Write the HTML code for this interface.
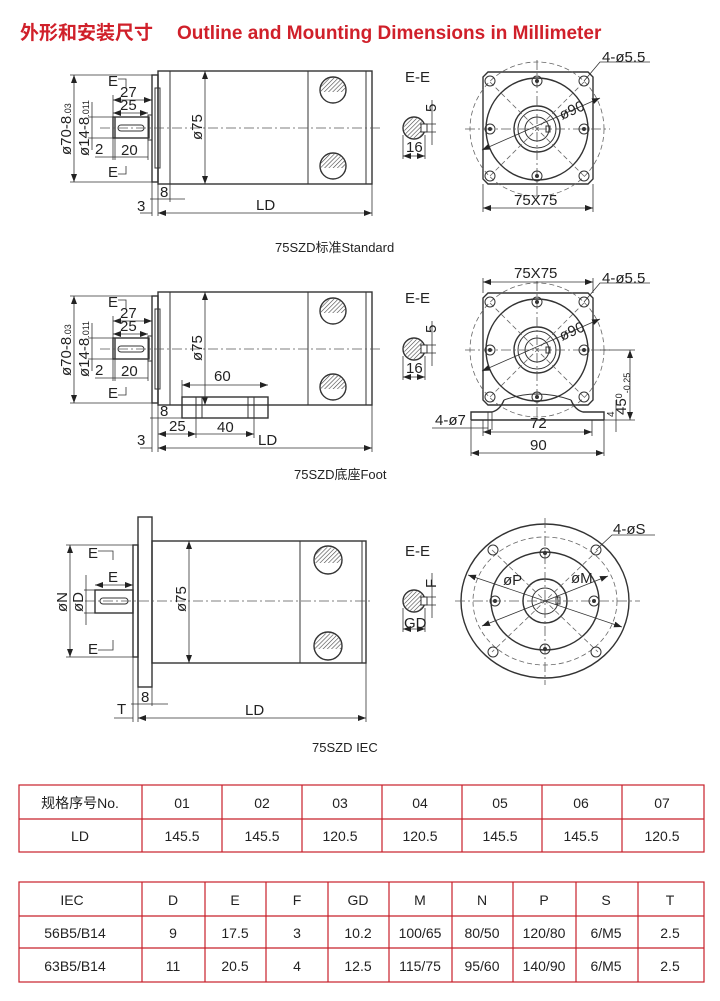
<!DOCTYPE html>
<html><head><meta charset="utf-8"><style>
html,body{margin:0;padding:0;background:#fff;}
svg{display:block;}
.l{stroke:#333;stroke-width:1;fill:none;}
.t{stroke:#333;stroke-width:1.4;fill:none;}
.c{stroke:#555;stroke-width:0.8;fill:none;stroke-dasharray:10 3 2 3;}
.d{stroke:#666;stroke-width:0.8;fill:none;stroke-dasharray:5 3;}
.dm{stroke:#333;stroke-width:0.8;fill:none;}
text{font-family:"Liberation Sans","Noto Sans CJK SC",sans-serif;fill:#222;}
.lb{font-size:15px;}
.cap{font-size:13px;}
.tb{font-size:14px;}
.rd{stroke:#c8202a;stroke-width:1.2;fill:none;}
</style></head><body>
<svg width="720" height="1001" viewBox="0 0 720 1001" xmlns="http://www.w3.org/2000/svg">
<defs>
<pattern id="h" width="3" height="3" patternUnits="userSpaceOnUse" patternTransform="rotate(45)"><line x1="0" y1="0" x2="0" y2="3" stroke="#444" stroke-width="1.2"/></pattern>
<marker id="a" markerWidth="8" markerHeight="6" refX="8" refY="3" orient="auto-start-reverse" markerUnits="userSpaceOnUse"><path d="M0,0 L8,3 L0,6z" fill="#222"/></marker>
<g id="side">
 <rect class="t" x="152" y="75" width="6" height="107"/>
 <rect class="l" x="155" y="88" width="5" height="80"/>
 <rect class="t" x="158" y="71" width="214" height="113"/>
 <line class="l" x1="170" y1="71" x2="170" y2="184"/>
 <line class="l" x1="308" y1="71" x2="308" y2="184"/>
 <line class="l" x1="366" y1="71" x2="366" y2="184"/>
 <circle class="t" cx="333" cy="90" r="13"/><path d="M321,86 A13,13 0 0 1 345,86 L345,92 L321,92z" fill="url(#h)"/>
 <circle class="t" cx="333" cy="166" r="13"/><path d="M321,162 A13,13 0 0 1 345,162 L345,168 L321,168z" fill="url(#h)"/>
 <rect class="t" x="113" y="117" width="36" height="21"/>
 <rect class="l" x="148" y="115" width="4" height="25"/>
 <rect class="l" x="118" y="125" width="26" height="6" rx="3"/>
 <line class="t" x1="115" y1="117" x2="115" y2="138"/>
 <line class="c" x1="100" y1="128" x2="380" y2="128"/>
 <!-- dims -->
 <line class="dm" x1="70" y1="75" x2="152" y2="75"/><line class="dm" x1="70" y1="182" x2="152" y2="182"/>
 <line class="dm" x1="74" y1="75" x2="74" y2="182" marker-start="url(#a)" marker-end="url(#a)"/>
 <text class="lb" transform="translate(71,155) rotate(-90)">ø70-8<tspan font-size="9">.03</tspan></text>
 <line class="dm" x1="88" y1="117" x2="113" y2="117"/><line class="dm" x1="88" y1="138" x2="113" y2="138"/>
 <line class="dm" x1="92" y1="102" x2="92" y2="150"/>
 <text class="lb" transform="translate(89,156) rotate(-90)">ø14-8<tspan font-size="9">.011</tspan></text>
 <line class="dm" x1="113" y1="95" x2="113" y2="117"/>
 <line class="dm" x1="113" y1="100" x2="152" y2="100" marker-start="url(#a)" marker-end="url(#a)"/>
 <text class="lb" x="120" y="97">27</text>
 <line class="dm" x1="113" y1="113" x2="148" y2="113" marker-start="url(#a)" marker-end="url(#a)"/>
 <text class="lb" x="120" y="110">25</text>
 <line class="dm" x1="113" y1="138" x2="113" y2="160"/><line class="dm" x1="115" y1="138" x2="115" y2="160"/><line class="dm" x1="148" y1="140" x2="148" y2="160"/>
 <line class="dm" x1="95" y1="157" x2="148" y2="157"/>
 <text class="lb" x="95" y="154">2</text><text class="lb" x="121" y="155">20</text>
 <text class="lb" x="108" y="86">E</text><path class="dm" d="M118,79 H126 V88"/>
 <text class="lb" x="108" y="177">E</text><path class="dm" d="M118,174 H126 V166"/>
 <line class="dm" x1="205" y1="71" x2="205" y2="184" marker-start="url(#a)" marker-end="url(#a)"/>
 <text class="lb" transform="translate(202,140) rotate(-90)">ø75</text>
</g>
<g id="sect">
 <circle class="t" cx="414" cy="128" r="11"/>
 <circle cx="414" cy="128" r="10" fill="url(#h)"/>
 <rect x="421" y="124" width="6" height="8" fill="#fff" stroke="#333"/>
 <line class="dm" x1="420" y1="124" x2="436" y2="124"/><line class="dm" x1="420" y1="132" x2="436" y2="132"/>
 <line class="dm" x1="432" y1="100" x2="432" y2="145"/>
 <line class="dm" x1="403" y1="135" x2="403" y2="159"/><line class="dm" x1="425" y1="135" x2="425" y2="159"/>
 <line class="dm" x1="403" y1="156" x2="425" y2="156" marker-start="url(#a)" marker-end="url(#a)"/>
</g>
<g id="front">
 <path class="t" d="M488,72 H588 L593,77 V179 L588,184 H488 L483,179 V77z"/>
 <circle class="d" cx="537" cy="129" r="67"/>
 <circle class="t" cx="537" cy="129" r="51"/>
 <circle class="t" cx="537" cy="129" r="23"/>
 <circle class="l" cx="537" cy="129" r="19"/>
 <circle class="l" cx="537" cy="129" r="12"/>
 <rect class="l" x="546" y="126" width="4" height="6"/>
 <line class="c" x1="465" y1="129" x2="610" y2="129"/>
 <line class="c" x1="537" y1="60" x2="537" y2="198"/>
 <line class="d" x1="490" y1="82" x2="584" y2="176"/><line class="d" x1="584" y1="82" x2="490" y2="176"/>
 <g class="l">
 <circle cx="490" cy="81" r="5"/><circle cx="584" cy="81" r="5"/><circle cx="490" cy="176" r="5"/><circle cx="584" cy="176" r="5"/>
 <circle cx="537" cy="81" r="5"/><circle cx="490" cy="129" r="5"/><circle cx="584" cy="129" r="5"/><circle cx="537" cy="176" r="5"/>
 </g>
 <g fill="#333"><circle cx="537" cy="81" r="2"/><circle cx="490" cy="129" r="2"/><circle cx="584" cy="129" r="2"/><circle cx="537" cy="176" r="2"/></g>
 <line class="dm" x1="482" y1="150" x2="600" y2="98" marker-start="url(#a)" marker-end="url(#a)"/>
 <text class="lb" transform="translate(562,120) rotate(-24)">ø90</text>
 <path class="dm" d="M584,81 L600,62 H650"/>
 <text class="lb" x="602" y="62">4-ø5.5</text>
</g>
</defs>

<text x="20" y="39" font-size="19" font-weight="bold" style="fill:#d0202a">外形和安装尺寸</text>
<text x="177" y="39" font-size="19" font-weight="bold" style="fill:#d0202a">Outline and Mounting Dimensions in Millimeter</text>

<!-- Drawing 1 -->
<use href="#side"/>
<line class="dm" x1="152" y1="182" x2="152" y2="216"/><line class="dm" x1="158" y1="184" x2="158" y2="216"/><line class="dm" x1="170" y1="184" x2="170" y2="202"/><line class="dm" x1="372" y1="184" x2="372" y2="216"/>
<line class="dm" x1="150" y1="199" x2="185" y2="199"/><text class="lb" x="160" y="197">8</text>
<line class="dm" x1="140" y1="213" x2="152" y2="213"/><text class="lb" x="137" y="211">3</text>
<line class="dm" x1="158" y1="213" x2="372" y2="213" marker-start="url(#a)" marker-end="url(#a)"/>
<text class="lb" x="256" y="210">LD</text>
<text class="lb" x="405" y="82">E-E</text>
<use href="#sect"/>
<text class="lb" transform="translate(436,112) rotate(-90)">5</text>
<text class="lb" x="406" y="152">16</text>
<use href="#front"/>
<line class="dm" x1="483" y1="184" x2="483" y2="212"/><line class="dm" x1="593" y1="184" x2="593" y2="212"/>
<line class="dm" x1="483" y1="208" x2="593" y2="208" marker-start="url(#a)" marker-end="url(#a)"/>
<text class="lb" x="514" y="205">75X75</text>
<text class="cap" x="275" y="252">75SZD标准Standard</text>

<!-- Drawing 2 -->
<g transform="translate(0,221)"><use href="#side"/><use href="#sect"/><use href="#front"/></g>
<rect class="t" x="182" y="397" width="86" height="21" fill="#fff"/>
<line class="l" x1="196" y1="397" x2="196" y2="418"/><line class="l" x1="202" y1="397" x2="202" y2="418"/>
<line class="l" x1="248" y1="397" x2="248" y2="418"/><line class="l" x1="254" y1="397" x2="254" y2="418"/>
<line class="dm" x1="182" y1="380" x2="182" y2="397"/>
<line class="dm" x1="182" y1="385" x2="268" y2="385" marker-start="url(#a)" marker-end="url(#a)"/>
<text class="lb" x="214" y="381">60</text>
<line class="dm" x1="150" y1="418" x2="185" y2="418"/><text class="lb" x="160" y="416">8</text>
<line class="dm" x1="196" y1="418" x2="196" y2="438"/><line class="dm" x1="254" y1="418" x2="254" y2="438"/>
<line class="dm" x1="158" y1="434" x2="196" y2="434" marker-start="url(#a)" marker-end="url(#a)"/>
<line class="dm" x1="196" y1="434" x2="254" y2="434" marker-end="url(#a)"/>
<text class="lb" x="169" y="431">25</text><text class="lb" x="217" y="432">40</text>
<line class="dm" x1="152" y1="403" x2="152" y2="452"/><line class="dm" x1="158" y1="405" x2="158" y2="452"/><line class="dm" x1="372" y1="405" x2="372" y2="452"/>
<line class="dm" x1="140" y1="448" x2="152" y2="448"/><text class="lb" x="137" y="445">3</text>
<line class="dm" x1="158" y1="448" x2="372" y2="448" marker-start="url(#a)" marker-end="url(#a)"/>
<text class="lb" x="258" y="445">LD</text>
<text class="lb" x="405" y="303">E-E</text>
<text class="lb" transform="translate(436,333) rotate(-90)">5</text>
<text class="lb" x="406" y="373">16</text>
<line class="dm" x1="483" y1="293" x2="483" y2="278"/><line class="dm" x1="593" y1="293" x2="593" y2="278"/>
<line class="dm" x1="483" y1="282" x2="593" y2="282" marker-start="url(#a)" marker-end="url(#a)"/>
<text class="lb" x="514" y="278">75X75</text>
<path class="t" d="M471,420 V412 H492 Q500,410 504,400 M604,420 V412 H583 Q575,410 571,400 M471,420 H604" fill="#fff"/>
<path class="l" d="M504,400 Q537,388 571,400"/>
<line class="dm" x1="483" y1="420" x2="483" y2="436"/><line class="dm" x1="592" y1="420" x2="592" y2="436"/>
<line class="dm" x1="471" y1="420" x2="471" y2="456"/><line class="dm" x1="604" y1="420" x2="604" y2="456"/>
<line class="dm" x1="488" y1="412" x2="488" y2="430"/><line class="dm" x1="492" y1="412" x2="492" y2="430"/>
<path class="dm" d="M432,428 H488"/>
<text class="lb" x="435" y="425">4-ø7</text>
<line class="dm" x1="483" y1="432" x2="592" y2="432" marker-start="url(#a)" marker-end="url(#a)"/>
<text class="lb" x="530" y="428">72</text>
<line class="dm" x1="471" y1="453" x2="604" y2="453" marker-start="url(#a)" marker-end="url(#a)"/>
<text class="lb" x="530" y="450">90</text>
<line class="dm" x1="600" y1="350" x2="635" y2="350"/><line class="dm" x1="604" y1="420" x2="635" y2="420"/>
<line class="dm" x1="630" y1="350" x2="630" y2="420" marker-start="url(#a)" marker-end="url(#a)"/>
<text class="lb" transform="translate(626,415) rotate(-90)">45<tspan font-size="9" dy="-4">0</tspan><tspan font-size="9" dy="8">-0.25</tspan></text>
<line class="dm" x1="616" y1="400" x2="616" y2="432"/>
<text font-size="10" transform="translate(614,417) rotate(-90)">4</text>
<text class="cap" x="294" y="479">75SZD底座Foot</text>

<!-- Drawing 3 IEC -->
<rect class="t" x="138" y="517" width="14" height="170"/>
<rect class="t" x="133" y="545" width="5" height="112"/>
<rect class="t" x="152" y="541" width="214" height="122"/>
<line class="l" x1="300" y1="541" x2="300" y2="663"/><line class="l" x1="362" y1="541" x2="362" y2="663"/>
<circle class="t" cx="328" cy="560" r="14"/><path d="M315,556 A14,14 0 0 1 341,556 L341,563 L315,563z" fill="url(#h)"/>
<circle class="t" cx="328" cy="646" r="14"/><path d="M315,642 A14,14 0 0 1 341,642 L341,649 L315,649z" fill="url(#h)"/>
<rect class="t" x="95" y="590" width="38" height="23"/>
<rect class="l" x="100" y="598" width="28" height="6" rx="3"/>
<line class="c" x1="85" y1="601" x2="372" y2="601"/>
<line class="dm" x1="189" y1="541" x2="189" y2="663" marker-start="url(#a)" marker-end="url(#a)"/>
<text class="lb" transform="translate(186,612) rotate(-90)">ø75</text>
<line class="dm" x1="66" y1="545" x2="133" y2="545"/><line class="dm" x1="66" y1="657" x2="133" y2="657"/>
<line class="dm" x1="70" y1="545" x2="70" y2="657" marker-start="url(#a)" marker-end="url(#a)"/>
<text class="lb" transform="translate(67,612) rotate(-90)">øN</text>
<line class="dm" x1="84" y1="590" x2="95" y2="590"/><line class="dm" x1="84" y1="613" x2="95" y2="613"/>
<line class="dm" x1="86" y1="575" x2="86" y2="625"/>
<text class="lb" transform="translate(83,612) rotate(-90)">øD</text>
<line class="dm" x1="95" y1="585" x2="133" y2="585" marker-start="url(#a)" marker-end="url(#a)"/>
<text class="lb" x="108" y="582">E</text>
<text class="lb" x="88" y="558">E</text><path class="dm" d="M98,551 H113 V560"/>
<text class="lb" x="88" y="654">E</text><path class="dm" d="M98,650 H113 V640"/>
<line class="dm" x1="133" y1="657" x2="133" y2="722"/><line class="dm" x1="138" y1="687" x2="138" y2="722"/><line class="dm" x1="152" y1="687" x2="152" y2="706"/><line class="dm" x1="366" y1="663" x2="366" y2="722"/>
<line class="dm" x1="131" y1="704" x2="168" y2="704"/><text class="lb" x="141" y="702">8</text>
<line class="dm" x1="114" y1="718" x2="133" y2="718"/><text class="lb" x="117" y="714">T</text>
<line class="dm" x1="138" y1="718" x2="366" y2="718" marker-start="url(#a)" marker-end="url(#a)"/>
<text class="lb" x="245" y="715">LD</text>
<text class="lb" x="405" y="556">E-E</text>
<g transform="translate(0,473)"><use href="#sect"/></g>
<text class="lb" transform="translate(436,588) rotate(-90)">F</text>
<text class="lb" x="404" y="628">GD</text>
<ellipse class="t" cx="545" cy="601" rx="84" ry="77"/>
<ellipse class="d" cx="545" cy="601" rx="72" ry="64"/>
<ellipse class="t" cx="545" cy="601" rx="54" ry="49"/>
<circle class="t" cx="545" cy="601" r="22"/>
<circle class="l" cx="545" cy="601" r="13"/>
<rect class="l" x="556" y="597" width="4" height="7"/>
<line class="c" x1="455" y1="601" x2="640" y2="601"/>
<line class="c" x1="545" y1="518" x2="545" y2="685"/>
<line class="d" x1="492" y1="550" x2="598" y2="652"/><line class="d" x1="598" y1="550" x2="492" y2="652"/>
<g class="l">
<circle cx="493" cy="550" r="5"/><circle cx="596" cy="550" r="5"/><circle cx="493" cy="652" r="5"/><circle cx="596" cy="652" r="5"/>
<circle cx="545" cy="553" r="5"/><circle cx="495" cy="601" r="5"/><circle cx="594" cy="601" r="5"/><circle cx="545" cy="649" r="5"/>
</g>
<g fill="#333"><circle cx="545" cy="553" r="2"/><circle cx="495" cy="601" r="2"/><circle cx="594" cy="601" r="2"/><circle cx="545" cy="649" r="2"/></g>
<line class="dm" x1="468" y1="575" x2="622" y2="627" marker-start="url(#a)" marker-end="url(#a)"/>
<line class="dm" x1="482" y1="626" x2="608" y2="576" marker-start="url(#a)" marker-end="url(#a)"/>
<text class="lb" x="503" y="585">øP</text>
<text class="lb" x="571" y="583">øM</text>
<path class="dm" d="M596,550 L612,535 H655"/>
<text class="lb" x="613" y="534">4-øS</text>
<text class="cap" x="312" y="752">75SZD IEC</text>

<!-- Table 1 -->
<g class="rd">
<rect x="19" y="785" width="685" height="67"/>
<line x1="19" y1="819" x2="704" y2="819"/>
<line x1="142" y1="785" x2="142" y2="852"/><line x1="222" y1="785" x2="222" y2="852"/><line x1="302" y1="785" x2="302" y2="852"/>
<line x1="382" y1="785" x2="382" y2="852"/><line x1="462" y1="785" x2="462" y2="852"/><line x1="542" y1="785" x2="542" y2="852"/><line x1="622" y1="785" x2="622" y2="852"/>
</g>
<g class="tb" text-anchor="middle">
<text x="80" y="808">规格序号No.</text><text x="182" y="808">01</text><text x="262" y="808">02</text><text x="340" y="808">03</text><text x="420" y="808">04</text><text x="500" y="808">05</text><text x="581" y="808">06</text><text x="662" y="808">07</text>
<text x="80" y="841">LD</text><text x="182" y="841">145.5</text><text x="262" y="841">145.5</text><text x="340" y="841">120.5</text><text x="420" y="841">120.5</text><text x="500" y="841">145.5</text><text x="581" y="841">145.5</text><text x="662" y="841">120.5</text>
</g>
<!-- Table 2 -->
<g class="rd">
<rect x="19" y="882" width="685" height="100"/>
<line x1="19" y1="916" x2="704" y2="916"/><line x1="19" y1="948" x2="704" y2="948"/>
<line x1="142" y1="882" x2="142" y2="982"/><line x1="205" y1="882" x2="205" y2="982"/><line x1="266" y1="882" x2="266" y2="982"/><line x1="328" y1="882" x2="328" y2="982"/><line x1="389" y1="882" x2="389" y2="982"/><line x1="452" y1="882" x2="452" y2="982"/><line x1="513" y1="882" x2="513" y2="982"/><line x1="576" y1="882" x2="576" y2="982"/><line x1="638" y1="882" x2="638" y2="982"/>
</g>
<g class="tb" text-anchor="middle">
<text x="72" y="905">IEC</text><text x="173" y="905">D</text><text x="235" y="905">E</text><text x="297" y="905">F</text><text x="358" y="905">GD</text><text x="420" y="905">M</text><text x="482" y="905">N</text><text x="544" y="905">P</text><text x="606" y="905">S</text><text x="670" y="905">T</text>
<text x="75" y="938">56B5/B14</text><text x="173" y="938">9</text><text x="235" y="938">17.5</text><text x="297" y="938">3</text><text x="358" y="938">10.2</text><text x="420" y="938">100/65</text><text x="482" y="938">80/50</text><text x="544" y="938">120/80</text><text x="606" y="938">6/M5</text><text x="670" y="938">2.5</text>
<text x="75" y="971">63B5/B14</text><text x="173" y="971">11</text><text x="235" y="971">20.5</text><text x="297" y="971">4</text><text x="358" y="971">12.5</text><text x="420" y="971">115/75</text><text x="482" y="971">95/60</text><text x="544" y="971">140/90</text><text x="606" y="971">6/M5</text><text x="670" y="971">2.5</text>
</g>
</svg>
</body></html>
